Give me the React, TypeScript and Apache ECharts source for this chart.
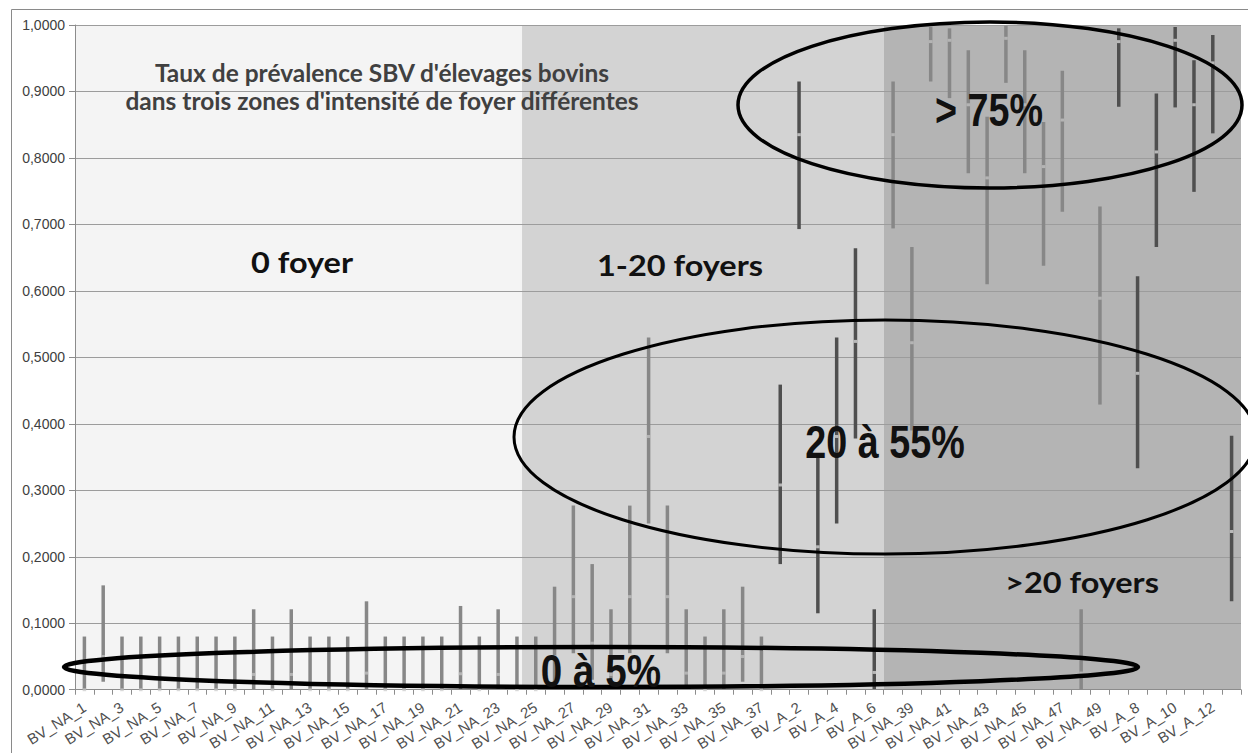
import React, { useEffect, useRef } from "react";
import * as echarts from "echarts";

// Farms (bovine herds) along the x axis
const categories = [
  "BV_NA_1", "BV_NA_2", "BV_NA_3", "BV_NA_4", "BV_NA_5", "BV_NA_6", "BV_NA_7", "BV_NA_8",
  "BV_NA_9", "BV_NA_10", "BV_NA_11", "BV_NA_12", "BV_NA_13", "BV_NA_14", "BV_NA_15", "BV_NA_16",
  "BV_NA_17", "BV_NA_18", "BV_NA_19", "BV_NA_20", "BV_NA_21", "BV_NA_22", "BV_NA_23", "BV_NA_24",
  "BV_NA_25", "BV_NA_26", "BV_NA_27", "BV_NA_28", "BV_NA_29", "BV_NA_30", "BV_NA_31", "BV_NA_32",
  "BV_NA_33", "BV_NA_34", "BV_NA_35", "BV_NA_36", "BV_NA_37",
  "BV_A_1", "BV_A_2", "BV_A_3", "BV_A_4", "BV_A_5", "BV_A_6",
  "BV_NA_38", "BV_NA_39", "BV_NA_40", "BV_NA_41", "BV_NA_42", "BV_NA_43", "BV_NA_44", "BV_NA_45",
  "BV_NA_46", "BV_NA_47", "BV_NA_48", "BV_NA_49",
  "BV_A_7", "BV_A_8", "BV_A_9", "BV_A_10", "BV_A_11", "BV_A_12", "BV_A_13",
];

// Prevalence: lower bound, point estimate, upper bound of the interval
const lower = [
  0, 0.012, 0, 0, 0, 0, 0, 0, 0, 0.001, 0, 0.001, 0, 0, 0, 0.001,
  0, 0, 0, 0, 0.001, 0, 0.001, 0, 0, 0.012, 0.055, 0.015, 0.001, 0.055, 0.25, 0.055,
  0.001, 0, 0.001, 0.012, 0,
  0.189, 0.693, 0.115, 0.25, 0.378, 0.001,
  0.694, 0.39, 0.915, 0.89, 0.777, 0.61, 0.913, 0.777, 0.638, 0.719, 0.001, 0.429,
  0.877, 0.333, 0.666, 0.876, 0.749, 0.837, 0.133,
];
const estimate = [
  0, 0.05, 0, 0, 0, 0, 0, 0, 0, 0.023, 0, 0.023, 0, 0, 0, 0.025,
  0, 0, 0, 0, 0.024, 0, 0.023, 0, 0, 0.05, 0.14, 0.07, 0.023, 0.14, 0.381, 0.14,
  0.025, 0, 0.025, 0.05, 0,
  0.308, 0.835, 0.215, 0.381, 0.524, 0.026,
  0.835, 0.522, 0.975, 0.977, 0.88, 0.77, 0.98, 0.88, 0.787, 0.857, 0.025, 0.589,
  0.975, 0.476, 0.809, 0.977, 0.88, 0.943, 0.238,
];
const upper = [
  0.08, 0.157, 0.08, 0.08, 0.08, 0.08, 0.08, 0.08, 0.08, 0.121, 0.08, 0.121, 0.08, 0.08, 0.08, 0.133,
  0.08, 0.08, 0.08, 0.08, 0.126, 0.08, 0.121, 0.08, 0.08, 0.155, 0.277, 0.189, 0.121, 0.277, 0.53, 0.277,
  0.121, 0.08, 0.121, 0.155, 0.08,
  0.459, 0.915, 0.353, 0.53, 0.664, 0.121,
  0.915, 0.666, 0.997, 0.995, 0.962, 0.862, 0.999, 0.962, 0.854, 0.931, 0.121, 0.727,
  0.995, 0.622, 0.897, 0.997, 0.947, 0.985, 0.382,
];

// Outbreak-intensity zones, in category units along the axis
const zoneNames = ["0 foyer", "1-20 foyers", ">20 foyers"];
const zoneStart = [0, 23.77, 43];
const zoneEnd = [23.77, 43, 62];
const zoneColors = ["#f4f4f4", "#d3d3d3", "#b4b4b4"];

const yTicks = [0, 0.1, 0.2, 0.3, 0.4, 0.5, 0.6, 0.7, 0.8, 0.9, 1];

const titleLines = [
  "Taux de prévalence SBV d'élevages bovins",
  "dans trois zones d'intensité de foyer différentes",
];

const W = 1248;
const H = 753;

const buildRows = (group: string) =>
  categories
    .map((c, i) => [i, lower[i], estimate[i], upper[i], c.startsWith("BV_A_") ? "A" : "NA"])
    .filter((r) => r[4] === group)
    .map((r) => r.slice(0, 4));

const intervalRenderer = (color: string, dot: string) => (params: any, api: any) => {
  const i = api.value(0);
  const lo = api.coord([i, api.value(1)]);
  const mid = api.coord([i, api.value(2)]);
  const hi = api.coord([i, api.value(3)]);
  return {
    type: "group",
    children: [
      {
        type: "line",
        shape: { x1: lo[0], y1: lo[1], x2: hi[0], y2: hi[1] },
        style: { stroke: color, lineWidth: 3.5 },
      },
      {
        type: "rect",
        shape: { x: mid[0] - 1.75, y: mid[1] - 1.5, width: 3.5, height: 3 },
        style: { fill: dot },
      },
    ],
  };
};

const label = (
  text: string,
  x: number,
  y: number,
  font: string,
  fill: string,
  scaleX = 1
) => ({
  type: "text",
  x,
  y,
  scaleX,
  z: 110,
  style: {
    text,
    x: 0,
    y: 0,
    font,
    fill,
    textAlign: "center",
    textVerticalAlign: "middle",
    align: "center",
    verticalAlign: "middle",
  },
});

const ring = (cx: number, cy: number, rx: number, ry: number, lw: number) => ({
  type: "ellipse",
  z: 105,
  shape: { cx, cy, rx, ry },
  style: { fill: "transparent", stroke: "#000", lineWidth: lw },
});

export default function App() {
  const ref = useRef<HTMLDivElement>(null);

  useEffect(() => {
    document.body.style.margin = "0";
    if (!ref.current) return;
    const chart = echarts.init(ref.current, undefined, { renderer: "svg" });

    const zoneData = zoneNames.map((n, k) => [zoneStart[k], zoneEnd[k], k]);
    const titleFont = "bold 24px Lato";
    const zoneFont = "bold 29px Lato";
    const bigFont = "bold 46px 'Liberation Sans'";
    const axisFont = "'Liberation Sans', Arial, sans-serif";

    chart.setOption({
      animation: false,
      backgroundColor: "#ffffff",
      grid: { left: 75, right: 7, top: 25, bottom: 63, containLabel: false },
      xAxis: [
        {
          type: "category",
          data: categories,
          boundaryGap: true,
          axisLine: { show: true, lineStyle: { color: "#8c8c8c", width: 1 } },
          axisTick: { show: true, interval: 0, length: 5, lineStyle: { color: "#8c8c8c" } },
          axisLabel: {
            interval: 1,
            rotate: 32,
            margin: 16,
            fontSize: 15,
            fontFamily: axisFont,
            color: "#4f4f4f",
          },
          splitLine: { show: false },
        },
        { type: "value", min: 0, max: categories.length, show: false },
      ],
      yAxis: {
        type: "value",
        min: yTicks[0],
        max: yTicks[yTicks.length - 1],
        interval: 0.1,
        axisLine: { show: true, lineStyle: { color: "#8c8c8c" } },
        axisTick: { show: true, length: 6, lineStyle: { color: "#8c8c8c" } },
        splitLine: { show: true, lineStyle: { color: "#9c9c9c", width: 1 } },
        axisLabel: {
          formatter: (v: number) => v.toFixed(4).replace(".", ","),
          fontSize: 14,
          fontFamily: axisFont,
          color: "#404040",
          margin: 10,
        },
      },
      series: [
        {
          type: "custom",
          name: "zones",
          xAxisIndex: 1,
          yAxisIndex: 0,
          z: -1,
          silent: true,
          data: zoneData,
          encode: { x: [0, 1] },
          renderItem: (params: any, api: any) => {
            const p0 = api.coord([api.value(0), 1]);
            const p1 = api.coord([api.value(1), 0]);
            return {
              type: "rect",
              shape: { x: p0[0], y: p0[1], width: p1[0] - p0[0], height: p1[1] - p0[1] },
              style: { fill: zoneColors[api.value(2)] },
            };
          },
        },
        {
          type: "custom",
          name: "Élevages non atteints",
          xAxisIndex: 0,
          yAxisIndex: 0,
          z: 3,
          data: buildRows("NA"),
          encode: { x: 0, y: [1, 2, 3] },
          renderItem: intervalRenderer("#878787", "rgba(200,200,200,0.7)"),
        },
        {
          type: "custom",
          name: "Élevages atteints",
          xAxisIndex: 0,
          yAxisIndex: 0,
          z: 3,
          data: buildRows("A"),
          encode: { x: 0, y: [1, 2, 3] },
          renderItem: intervalRenderer("#4f4f4f", "rgba(210,210,210,0.8)"),
        },
      ],
      graphic: [
        {
          type: "rect",
          z: 100,
          silent: true,
          shape: { x: 11.5, y: 9.5, width: W + 20, height: H + 20 },
          style: { fill: "transparent", stroke: "#8a8a8a", lineWidth: 1 },
        },
        label(titleLines[0], 382, 73, titleFont, "#404040", 1.02),
        label(titleLines[1], 382, 101, titleFont, "#404040", 1.02),
        label(zoneNames[0], 302, 262, zoneFont, "#111111", 1.12),
        label(zoneNames[1], 680, 265, zoneFont, "#111111", 1.12),
        label(zoneNames[2], 1082, 582, zoneFont, "#111111", 1.12),
        ring(990, 105, 252, 83, 3.5),
        ring(885, 437, 371, 117, 3),
        ring(601, 667, 537, 20, 4.5),
        label("> 75%", 989, 110, bigFont, "#111111", 0.82),
        label("20 à 55%", 885, 442, bigFont, "#111111", 0.82),
        label("0 à 5%", 601, 671, bigFont, "#111111", 0.84),
      ],
    });

    return () => chart.dispose();
  }, []);

  return <div ref={ref} style={{ width: W, height: H }} />;
}
